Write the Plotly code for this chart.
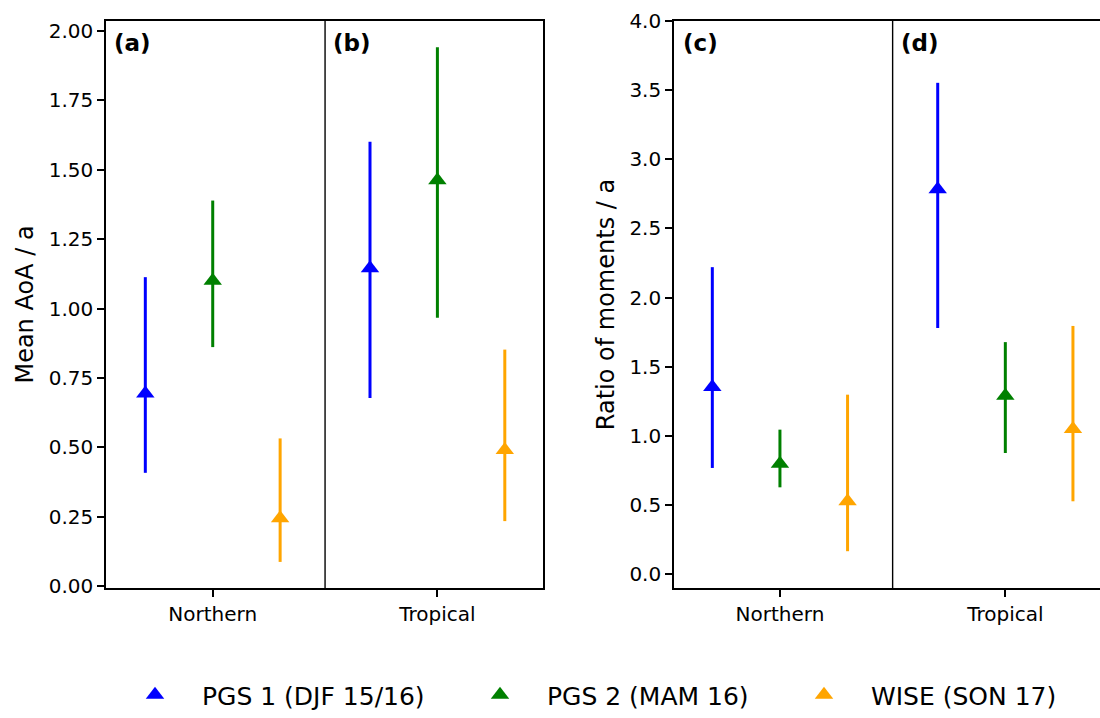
import plotly.graph_objects as go

regions = ["Northern", "Tropical"]
series = ["PGS 1 (DJF 15/16)", "PGS 2 (MAM 16)", "WISE (SON 17)"]
colors = ["#0000ff", "#008000", "#ffa500"]
offsets = [-0.3, 0.0, 0.3]

# Mean AoA (years): central value, lower bound, upper bound per region
aoa_val = {
    "PGS 1 (DJF 15/16)": [0.694, 1.145],
    "PGS 2 (MAM 16)": [1.100, 1.462],
    "WISE (SON 17)": [0.244, 0.490],
}
aoa_low = {
    "PGS 1 (DJF 15/16)": [0.408, 0.678],
    "PGS 2 (MAM 16)": [0.861, 0.967],
    "WISE (SON 17)": [0.087, 0.234],
}
aoa_high = {
    "PGS 1 (DJF 15/16)": [1.113, 1.601],
    "PGS 2 (MAM 16)": [1.389, 1.941],
    "WISE (SON 17)": [0.532, 0.852],
}

# Ratio of moments (years)
rom_val = {
    "PGS 1 (DJF 15/16)": [1.353, 2.783],
    "PGS 2 (MAM 16)": [0.799, 1.291],
    "WISE (SON 17)": [0.527, 1.050],
}
rom_low = {
    "PGS 1 (DJF 15/16)": [0.768, 1.780],
    "PGS 2 (MAM 16)": [0.628, 0.876],
    "WISE (SON 17)": [0.166, 0.527],
}
rom_high = {
    "PGS 1 (DJF 15/16)": [2.220, 3.553],
    "PGS 2 (MAM 16)": [1.045, 1.678],
    "WISE (SON 17)": [1.298, 1.795],
}

aoa_ticks = [0.0, 0.25, 0.5, 0.75, 1.0, 1.25, 1.5, 1.75, 2.0]
rom_ticks = [0.0, 0.5, 1.0, 1.5, 2.0, 2.5, 3.0, 3.5, 4.0]
panel_labels = ["(a)", "(b)", "(c)", "(d)"]

FONT = "DejaVu Sans"
W, H = 1100, 718
PLOT_TOP, PLOT_BOTTOM = 21, 588
PLOT_H = PLOT_BOTTOM - PLOT_TOP

legend_ids = ["legend", "legend2", "legend3"]
legend_left_px = [108, 453, 777]

fig = go.Figure()

def add_panel(vals, lows, highs, xa, ya, show):
    for s, c, off, lg in zip(series, colors, offsets, legend_ids):
        v = vals[s]
        lo = lows[s]
        hi = highs[s]
        fig.add_trace(go.Scatter(
            x=[i + off for i in range(len(regions))],
            y=v,
            mode="markers",
            name=s,
            legendgroup=s,
            legend=lg,
            showlegend=show,
            xaxis=xa, yaxis=ya,
            marker=dict(symbol="triangle-up", size=16, color=c),
            error_y=dict(type="data", symmetric=False,
                         array=[h - m for h, m in zip(hi, v)],
                         arrayminus=[m - l for m, l in zip(v, lo)],
                         width=0, thickness=3, color=c),
        ))

add_panel(aoa_val, aoa_low, aoa_high, "x", "y", True)
add_panel(rom_val, rom_low, rom_high, "x2", "y2", False)

axis_common = dict(showgrid=False, zeroline=False, showline=True, linecolor="black",
                   linewidth=1.6, ticks="outside", ticklen=7, tickwidth=1.6,
                   tickcolor="black", tickfont=dict(family=FONT, size=20, color="black"))

legend_common = dict(orientation="h", xanchor="left",
                     y=(PLOT_BOTTOM - H) / PLOT_H, yanchor="bottom",
                     font=dict(family=FONT, size=25), itemwidth=84,
                     bgcolor="rgba(0,0,0,0)")

fig.update_layout(
    width=W, height=H,
    margin=dict(l=0, r=0, t=PLOT_TOP, b=H - PLOT_BOTTOM),
    paper_bgcolor="white", plot_bgcolor="white",
    font=dict(family=FONT, color="black"),
    xaxis=dict(domain=[106 / W, 543 / W], range=[-0.475, 1.47], tickvals=[0, 1],
               ticktext=regions, mirror=True, anchor="y", **axis_common),
    yaxis=dict(domain=[0, 1], range=[-0.007, 2.036], tickvals=aoa_ticks,
               ticktext=[f"{t:.2f}" for t in aoa_ticks], mirror=True, anchor="x",
               title=dict(text="Mean AoA / a", font=dict(family=FONT, size=24), standoff=8),
               **axis_common),
    xaxis2=dict(domain=[674 / W, 1.0], range=[-0.47, 1.42], tickvals=[0, 1],
                ticktext=regions, mirror=True, anchor="y2", **axis_common),
    yaxis2=dict(domain=[0, 1], range=[-0.1, 4.0], tickvals=rom_ticks,
                ticktext=[f"{t:.1f}" for t in rom_ticks], mirror=False, anchor="x2",
                title=dict(text="Ratio of moments / a", font=dict(family=FONT, size=24), standoff=8),
                **axis_common),
    legend=dict(x=legend_left_px[0] / W, **legend_common),
    legend2=dict(x=legend_left_px[1] / W, **legend_common),
    legend3=dict(x=legend_left_px[2] / W, **legend_common),
    showlegend=True,
)

# Divider lines between the two regions in each panel
for xr, yr in [("x", "y"), ("x2", "y2")]:
    fig.add_shape(type="line", xref=xr, yref=f"{yr} domain", x0=0.5, x1=0.5, y0=0, y1=1,
                  line=dict(color="black", width=1.4))

label_x = [-0.450, 0.525, -0.437, 0.530]
label_ax = ["x", "x", "x2", "x2"]
for lab, lx, xr in zip(panel_labels, label_x, label_ax):
    fig.add_annotation(text=f"<b>{lab}</b>", x=lx, xref=xr, xanchor="left",
                       y=(PLOT_BOTTOM - 43) / PLOT_H, yref="paper", yanchor="middle",
                       showarrow=False, font=dict(family=FONT, size=23, color="black"))

fig.write_html("out.html")
